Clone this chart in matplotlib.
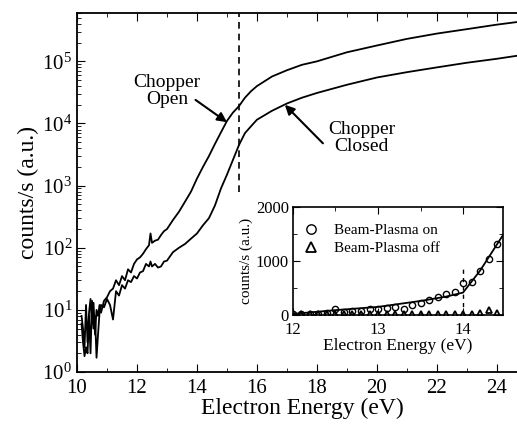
import matplotlib
matplotlib.use('Agg')
import matplotlib.pyplot as plt

plt.rcParams['font.family'] = ['Liberation Serif', 'DejaVu Serif']
plt.rcParams['mathtext.fontset'] = 'stix'

# main panel: count rate vs electron energy
energy = [10.15, 10.2, 10.25, 10.3, 10.35, 10.4, 10.45, 10.5, 10.55, 10.6, 10.65, 10.7, 10.75,
          10.8, 10.9, 11.0, 11.1, 11.2, 11.3, 11.4, 11.5, 11.6, 11.7, 11.8, 11.9, 12.0, 12.1,
          12.2, 12.3, 12.4, 12.45, 12.5, 12.6, 12.7, 12.8, 12.9, 13.0, 13.2, 13.4, 13.6, 13.8,
          14.0, 14.2, 14.4, 14.6, 14.8, 15.0, 15.2, 15.4, 15.6, 15.8, 16.0, 16.5, 17.0, 17.5,
          18, 19, 20, 21, 22, 23, 24, 25]
chopper_open = [8, 5, 2.5, 12, 3, 9, 15, 6, 13, 4, 10, 8, 12,
                9, 14, 16, 20, 22, 30, 25, 35, 30, 45, 40, 55, 65, 70,
                80, 95, 110, 170, 120, 130, 135, 160, 185, 200, 280, 380, 550, 800,
                1300, 2000, 3000, 4700, 7200, 11000, 15000, 19000, 26000, 33000, 40000, 57000, 72000, 88000,
                100000, 140000, 180000, 230000, 280000, 330000, 390000, 450000]
chopper_closed = [6, 3, 1.8, 2.5, 2, 8, 2, 14, 5, 8, 1.7, 4, 9,
                  12, 11, 15, 12, 7, 20, 17, 25, 22, 30, 28, 35, 32, 40,
                  42, 55, 50, 60, 50, 55, 48, 50, 60, 62, 85, 100, 115, 140,
                  170, 230, 300, 480, 900, 1500, 2600, 4500, 7000, 9000, 11500, 16000, 21000, 26000,
                  31000, 42000, 55000, 67000, 80000, 95000, 110000, 130000]

# inset: linear scale near threshold
e_inset = [12.0, 12.1, 12.2, 12.3, 12.4, 12.5, 12.6, 12.7, 12.8, 12.9, 13.0, 13.1, 13.2,
           13.3, 13.4, 13.5, 13.6, 13.7, 13.8, 13.9, 14.0, 14.1, 14.2, 14.3, 14.4]
bp_on = [10, 20, 15, 25, 30, 110, 60, 75, 75, 110, 120, 135, 150,
         120, 185, 220, 280, 340, 390, 420, 600, 620, 820, 1040, 1320]
bp_off = [15, 10, 15, 10, 15, 10, 15, 10, 15, 10, 15, 10, 15,
          15, 15, 15, 15, 20, 15, 20, 20, 15, 30, 90, 45]
fit_e = [12.0, 12.5, 13.0, 13.5, 13.8, 14.0, 14.2, 14.47]
fit_counts = [20, 90, 150, 260, 340, 415, 820, 1480]

fig = plt.figure(figsize=(5.17, 4.24), dpi=100)
ax = fig.add_axes([0.149, 0.1226, 0.87, 0.8467])
ax.semilogy(energy, chopper_open, color='black', lw=1.3)
ax.semilogy(energy, chopper_closed, color='black', lw=1.3)
ax.plot([15.4, 15.4], [800, 6e5], color='black', lw=1.2, ls=(0, (4, 3)))
ax.set_xlim(10, 25)
ax.set_ylim(1, 6e5)
ax.set_xticks(range(10, 25, 2))
ax.set_xticks(range(11, 25, 2), minor=True)
ax.tick_params(which='both', direction='in', top=True, right=True, labelsize=15)
ax.tick_params(axis='x', pad=5)
ax.tick_params(which='major', length=6)
ax.tick_params(which='minor', length=3)
ax.set_xlabel('Electron Energy (eV)', fontsize=17, labelpad=0)
ax.set_ylabel('counts/s (a.u.)', fontsize=17, labelpad=2)
for s in ax.spines.values():
    s.set_linewidth(1.3)

arrow = dict(arrowstyle='-|>', color='black', lw=1.5, shrinkA=0, shrinkB=0, mutation_scale=14)
ax.text(13.0, 3.3e4, 'Chopper\nOpen', ha='center', va='center', fontsize=14, linespacing=1.0)
ax.annotate('', xy=(15.0, 1.05e4), xytext=(13.95, 2.4e4), arrowprops=arrow)
ax.text(19.5, 5.8e3, 'Chopper\nClosed', ha='center', va='center', fontsize=14, linespacing=1.0)
ax.annotate('', xy=(16.93, 2.0e4), xytext=(18.2, 4.8e3), arrowprops=arrow)

ins = fig.add_axes([0.5667, 0.2571, 0.4062, 0.2547])
ins.plot(fit_e, fit_counts, color='black', lw=1.3)
ins.plot(e_inset, bp_on, ls='none', marker='o', ms=4.5, mfc='none', mec='black', mew=1.0,
         label='Beam-Plasma on')
ins.plot(e_inset, bp_off, ls='none', marker='^', ms=4.5, mfc='none', mec='black', mew=1.3,
         label='Beam-Plasma off')
ins.plot([14, 14], [0, 900], color='black', lw=1.0, ls=(0, (3, 3)))
ins.set_xlim(12, 14.47)
ins.set_ylim(0, 2000)
ins.set_xticks([12, 13, 14])
ins.set_xticks([12.5, 13.5], minor=True)
ins.set_yticks([0, 1000, 2000])
ins.set_yticks([500, 1500], minor=True)
ins.tick_params(which='both', direction='in', top=True, right=True, labelsize=12)
ins.tick_params(axis='y', pad=3)
ins.tick_params(axis='x', pad=5)
ins.tick_params(which='major', length=5)
ins.tick_params(which='minor', length=3)
ins.set_xlabel('Electron Energy (eV)', fontsize=12.5, labelpad=0)
ins.set_ylabel('counts/s (a.u.)', fontsize=11, labelpad=2)
for s in ins.spines.values():
    s.set_linewidth(1.2)
ins.legend(loc='upper left', bbox_to_anchor=(0.0, 0.93), frameon=False, fontsize=11,
           markerscale=1.5, handlelength=1.2, handletextpad=0.9, borderaxespad=0.2,
           labelspacing=0.25)

fig.savefig('out.png', dpi=100)
